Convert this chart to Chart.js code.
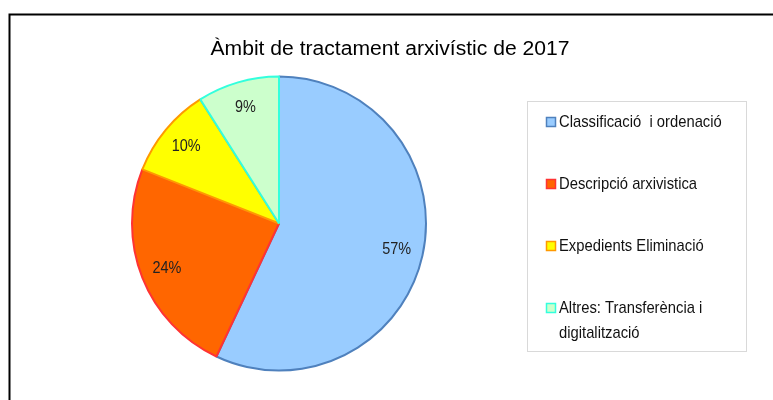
<!DOCTYPE html>
<html>
<head>
<meta charset="utf-8">
<script src="https://cdn.jsdelivr.net/npm/chart.js@4.4.1/dist/chart.umd.min.js"></script>
<style>
  html, body { margin: 0; padding: 0; background: #fff; }
  canvas { display: block; }
</style>
</head>
<body>
<canvas id="myChart" width="773" height="400"></canvas>
<script>
const chartTitle = "Àmbit de tractament arxivístic de 2017";
const categories = [
  "Classificació  i ordenació",
  "Descripció arxivistica",
  "Expedients Eliminació",
  ["Altres: Transferència i", "digitalització"],
];
const shares = [57, 24, 10, 9];
const fillColors = ["#99ccff", "#ff6600", "#ffff00", "#ccffcc"];
const edgeColors = ["#4f81bd", "#ff3333", "#ff9900", "#33ffdd"];

const FONT = "'Liberation Sans', Arial, sans-serif";

// the original uses a condensed face, so squeeze the text horizontally
function narrowText(ctx, text, x, y, sx) {
  ctx.save();
  ctx.translate(x, y);
  ctx.scale(sx, 1);
  ctx.fillText(text, 0, 0);
  ctx.restore();
}

const decorPlugin = {
  id: 'decor',
  beforeDraw(chart) {
    const ctx = chart.ctx;
    ctx.save();
    ctx.fillStyle = '#fff';
    ctx.fillRect(0, 0, chart.width, chart.height);
    ctx.strokeStyle = '#000';
    ctx.lineWidth = 2;
    ctx.beginPath();
    ctx.moveTo(9.5, chart.height);
    ctx.lineTo(9.5, 14.5);
    ctx.lineTo(chart.width, 14.5);
    ctx.stroke();

    ctx.fillStyle = '#000';
    ctx.font = '20px ' + FONT;
    ctx.textAlign = 'center';
    ctx.textBaseline = 'middle';
    const w = ctx.measureText(chartTitle).width;
    narrowText(ctx, chartTitle, 390, 49, 359 / w);
    ctx.restore();
  },
  afterDraw(chart) {
    const ctx = chart.ctx;
    const data = chart.data;
    ctx.save();
    ctx.strokeStyle = '#d9d9d9';
    ctx.lineWidth = 1;
    ctx.strokeRect(527.5, 101.5, 219, 250);

    ctx.font = '17px ' + FONT;
    ctx.textAlign = 'left';
    ctx.textBaseline = 'middle';
    data.labels.forEach((label, i) => {
      const y = 122 + i * 62;
      const ds = data.datasets[0];
      ctx.fillStyle = ds.backgroundColor[i];
      ctx.fillRect(546, y - 5, 10, 10);
      ctx.strokeStyle = ds.borderColor[i];
      ctx.lineWidth = 1.5;
      ctx.strokeRect(546.5, y - 4.5, 9, 9);
      ctx.fillStyle = '#111';
      const lines = Array.isArray(label) ? label : [label];
      lines.forEach((line, k) => narrowText(ctx, line, 559, y + k * 25, 0.87));
    });
    ctx.restore();
  },
  afterDatasetsDraw(chart) {
    const ctx = chart.ctx;
    const meta = chart.getDatasetMeta(0);
    ctx.save();
    ctx.font = '17px ' + FONT;
    ctx.fillStyle = '#222';
    ctx.textAlign = 'center';
    ctx.textBaseline = 'middle';
    meta.data.forEach((arc, i) => {
      const p = arc.getProps(['x', 'y', 'startAngle', 'endAngle', 'outerRadius'], true);
      const mid = (p.startAngle + p.endAngle) / 2;
      const r = p.outerRadius * 0.82;
      narrowText(ctx, shares[i] + '%', p.x + Math.cos(mid) * r, p.y + Math.sin(mid) * r, 0.85);
    });
    ctx.restore();
  },
};

new Chart(document.getElementById('myChart').getContext('2d'), {
  type: 'pie',
  data: {
    labels: categories,
    datasets: [{
      data: shares,
      backgroundColor: fillColors,
      borderColor: edgeColors,
      borderWidth: 2,
    }],
  },
  options: {
    responsive: false,
    animation: false,
    layout: { padding: { left: 131, right: 346, top: 75, bottom: 28 } },
    plugins: {
      legend: { display: false },
      title: { display: false },
      tooltip: { enabled: false },
    },
  },
  plugins: [decorPlugin],
});
</script>
</body>
</html>
